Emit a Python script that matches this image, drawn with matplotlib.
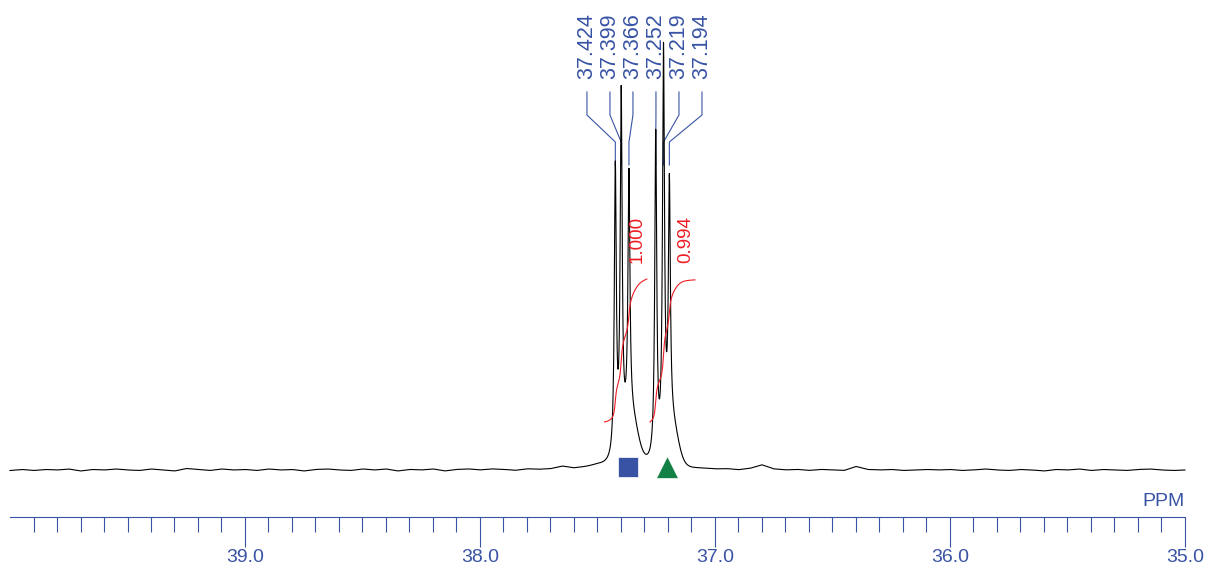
import numpy as np
import matplotlib
matplotlib.use("Agg")
import matplotlib.pyplot as plt

plt.rcParams['font.family'] = ['Liberation Sans', 'DejaVu Sans']

# peak table (ppm, height in a.u.)
peak_ppm = [37.424, 37.399, 37.366, 37.252, 37.219, 37.194]
peak_height = [288, 350, 245, 326, 395, 242]
peak_width = 0.0050  # lorentzian half width, ppm

# unresolved shoulders on the high-field side of each multiplet
shoulder_ppm = [37.357, 37.183]
shoulder_height = [45, 38]
shoulder_sigma = [0.028, 0.0255]

# integrals (region start, region end, value)
integral_regions = [(37.47, 37.29), (37.277, 37.085)]
integral_values = [1.000, 0.994]

# baseline readings every 0.05 ppm from 40.00 down to 35.00
baseline_ppm = np.round(np.arange(40.0, 34.999, -0.05), 2)
baseline = [
    -0.5, 0.5, -0.5, 0.5, 0, 1, -1, 0.5, 0, 1,
    0, -0.5, 1, 0, -1, 1.5, 0.5, -0.5, 1, 0,
    0.5, -0.5, 1, 0, 0.5, -1, 0.5, 1, 0, -0.5,
    1, 0, 1, -1, 0.5, 0, 1, -1, 0.5, 1,
    0, 1, 0.5, -0.5, 1, 0.5, 1, 3.5, 1.5, 2.5,
    4, 3, 3, 3, 3, 2, 2, 1.5, 1, 1,
    0.5, 1, 0, 1.5, 5, 1, 0, 0.5, -0.5, 0.5,
    0, -0.5, 3.5, 0.5, 0, 0.5, -0.5, 0, 0.5, 0,
    0.5, -0.5, 0, 1, 0, -0.5, 0.5, 0, -1, 0.5,
    0, 1, -0.5, 0.5, 0, -0.5, 0.5, 1, 0, -0.5,
    0,
]

# marker symbols under the two multiplets
marker_ppm = [37.37, 37.205]

BLUE = '#3853a4'
RED = '#ed1c24'
GREEN = '#138046'

# build spectrum
ppm = np.linspace(40.0, 35.0, 12001)
base = np.interp(ppm, baseline_ppm[::-1], np.array(baseline)[::-1])
signal = np.zeros_like(ppm)
for p, h in zip(peak_ppm, peak_height):
    signal += h * peak_width**2 / ((ppm - p)**2 + peak_width**2)
for c, h, s in zip(shoulder_ppm, shoulder_height, shoulder_sigma):
    signal += h * np.exp(-0.5 * ((ppm - c) / s)**2)
spec = base + signal

fig = plt.figure(figsize=(12.07, 5.71), dpi=100)
ax = fig.add_axes([0, 0, 1, 1])
ax.set_xlim(40.0426, 34.906)
ax.set_ylim(-101, 470)

# peak labels with leader lines
n = len(peak_ppm)
spacing = 0.0979
center = np.mean([peak_ppm[0], peak_ppm[-1]]) - 0.009
for i, p in enumerate(peak_ppm):
    lx = center + (((n - 1) / 2) - i) * spacing
    ax.plot([lx, lx, p, p], [378, 355, 328, 305], color=BLUE, lw=0.8)
    ax.text(lx, 391, f"{p:.3f}", rotation=90, ha='center', va='bottom',
            color=BLUE, fontsize=15.5)

ax.plot(ppm, spec, color='black', lw=0.8)

# integral curves
for (a, b), val in zip(integral_regions, integral_values):
    m = (ppm <= a) & (ppm >= b)
    cum = np.cumsum(signal[m])
    cum = cum / cum[-1] * val
    ax.plot(ppm[m], 48 + 143 * cum, color=RED, lw=0.8)
    ax.text(b + 0.04, 207, f"{val:.3f}", rotation=90, ha='center', va='bottom',
            color=RED, fontsize=13.5)

ax.plot(marker_ppm[0], 3, marker='s', ms=14.4, color=BLUE, mec='white', mew=0.5)
ax.plot(marker_ppm[1], 3, marker='^', ms=16, color=GREEN, mec='white', mew=0.5)

# ppm axis
for s in ['left', 'right', 'top']:
    ax.spines[s].set_visible(False)
ax.spines['bottom'].set_position(('data', -47))
ax.spines['bottom'].set_bounds(35.0, 40.0)
ax.spines['bottom'].set_color(BLUE)
ax.spines['bottom'].set_linewidth(0.8)
ax.set_yticks([])
ax.set_xticks([39.0, 38.0, 37.0, 36.0, 35.0])
ax.set_xticklabels(['39.0', '38.0', '37.0', '36.0', '35.0'])
ax.set_xticks(np.round(np.arange(35.1, 39.95, 0.1), 1), minor=True)
ax.tick_params(axis='x', which='major', direction='out', length=21.6, width=0.8,
               color=BLUE, labelcolor=BLUE, labelsize=14, pad=1.5)
ax.tick_params(axis='x', which='minor', direction='out', length=10.8, width=0.8,
               color=BLUE)
ax.text(35.0, -40, 'PPM', ha='right', va='bottom', color=BLUE, fontsize=14)

fig.savefig('out.png', dpi=100)
